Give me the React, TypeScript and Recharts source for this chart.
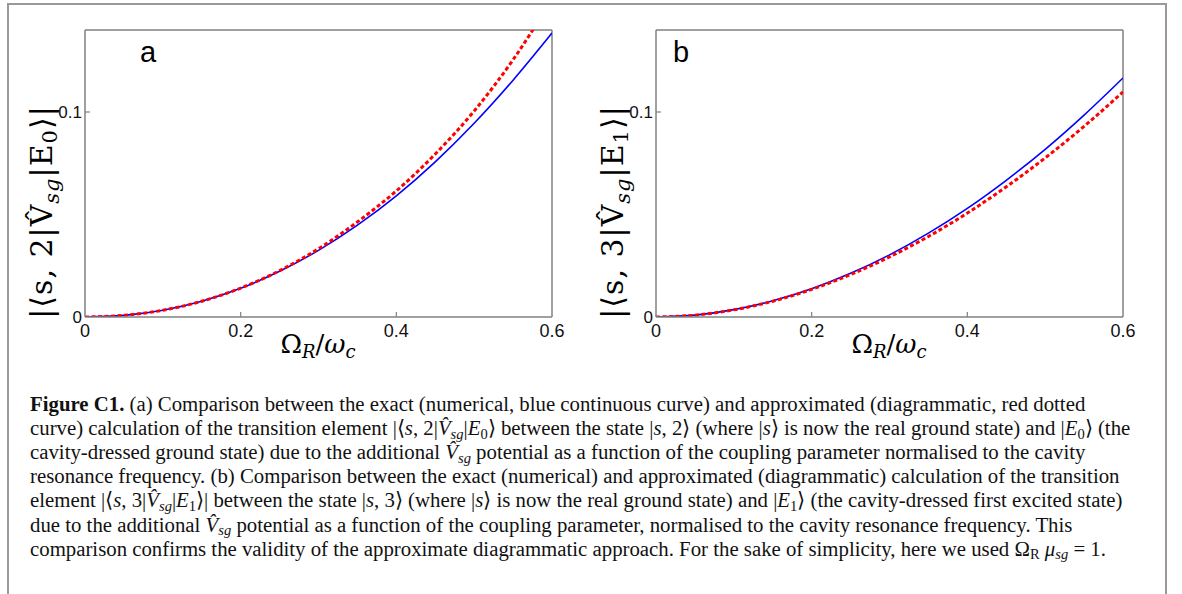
import React from "react";
import { LineChart, Line, XAxis, YAxis, ReferenceLine } from "recharts";

// coupling Omega_R / omega_c
const omega = [0, 0.05, 0.1, 0.15, 0.2, 0.25, 0.3, 0.35, 0.4, 0.45, 0.5, 0.55, 0.6];
// panel a: |<s,2|V_sg|E0>|
const exactA = [0, 0.0008, 0.0033, 0.0077, 0.014, 0.0223, 0.0325, 0.0448, 0.0591, 0.0757, 0.0945, 0.1155, 0.1385];
const approxA = [0, 0.0008, 0.0033, 0.0077, 0.0141, 0.0226, 0.0333, 0.0464, 0.0615, 0.0795, 0.1005, 0.1255, 0.155];
// panel b: |<s,3|V_sg|E1>|
const exactB = [0, 0.0009, 0.0036, 0.0079, 0.0138, 0.0213, 0.0303, 0.0409, 0.053, 0.0667, 0.0818, 0.0985, 0.1166];
const approxB = [0, 0.0009, 0.0035, 0.0077, 0.0135, 0.0207, 0.0293, 0.0393, 0.0507, 0.0635, 0.0776, 0.093, 0.1098];

const xTicks = [0, 0.2, 0.4, 0.6];
const xTickLabels = ["0", "0.2", "0.4", "0.6"];
const yTicks = [0, 0.1];
const yTickLabels = ["0", "0.1"];

const AXIS = "#808080";
const W = 590;
const H = 370;

function XTick(props: any) {
  const { x, y, payload } = props;
  const i = xTicks.indexOf(payload.value);
  const inner = i > 0 && i < xTicks.length - 1;
  return (
    <g>
      {inner && <line x1={x} x2={x} y1={y} y2={y - 5} stroke={AXIS} strokeWidth={1.2} />}
      <text x={x} y={y + 20} textAnchor="middle" fontFamily="Liberation Sans, Arial" fontSize={18} fill="#111">
        {xTickLabels[i]}
      </text>
    </g>
  );
}

function YTick(props: any) {
  const { x, y, payload } = props;
  const i = yTicks.indexOf(payload.value);
  return (
    <g>
      {i > 0 && <line x1={x} x2={x + 5} y1={y} y2={y} stroke={AXIS} strokeWidth={1.2} />}
      <text x={x - 3} y={y} dy="0.36em" textAnchor="end" fontFamily="Liberation Sans, Arial" fontSize={17} fill="#111">
        {yTickLabels[i]}
      </text>
    </g>
  );
}

function Panel(props: { left: number; letter: string; letterX: number; n: string; e: string; exact: number[]; approx: number[] }) {
  const data = omega.map((w, i) => ({ w, exact: props.exact[i], approx: props.approx[i] }));
  return (
    <div style={{ position: "absolute", left: props.left, top: 0, width: W, height: H }}>
      <LineChart width={W} height={H} data={data} margin={{ top: 30, right: 38, left: 45, bottom: 23 }}>
        <XAxis
          dataKey="w"
          type="number"
          domain={[0, 0.6]}
          ticks={xTicks}
          interval={0}
          height={30}
          tickSize={0}
          tickMargin={0}
          tickLine={false}
          tick={<XTick />}
          axisLine={{ stroke: AXIS, strokeWidth: 1.5 }}
          allowDataOverflow
        />
        <YAxis
          type="number"
          domain={[0, 0.14]}
          ticks={yTicks}
          interval={0}
          width={40}
          tickSize={0}
          tickMargin={0}
          tickLine={false}
          tick={<YTick />}
          axisLine={{ stroke: AXIS, strokeWidth: 1.5 }}
          allowDataOverflow
        />
        <ReferenceLine y={0.14} stroke={AXIS} strokeWidth={1.5} />
        <ReferenceLine x={0.6} stroke={AXIS} strokeWidth={1.5} />
        <Line type="monotone" dataKey="exact" stroke="#0000ff" strokeWidth={1.6} dot={false} isAnimationActive={false} />
        <Line
          type="monotone"
          dataKey="approx"
          stroke="#ff0000"
          strokeWidth={3}
          strokeDasharray="4 2.5"
          dot={false}
          isAnimationActive={false}
        />
      </LineChart>
      <svg width={W} height={H} style={{ position: "absolute", left: 0, top: 0, pointerEvents: "none" }}>
        <text x={props.letterX} y={62} fontFamily="Liberation Sans, Arial" fontSize={29} fill="#000">
          {props.letter}
        </text>
        <text
          transform="translate(52,212) rotate(-90)"
          textAnchor="middle"
          fontFamily="DejaVu Serif"
          fontSize={30}
          letterSpacing={1}
          fill="#000"
        >
          {`|⟨s, ${props.n}|V̂`}
          <tspan fontSize={21} fontStyle="italic" dy={7}>sg</tspan>
          <tspan dy={-7}>|E</tspan>
          <tspan fontSize={21} dy={5}>{props.e}</tspan>
          <tspan dy={-5}>⟩|</tspan>
        </text>
        <text x={318} y={353} textAnchor="middle" fontFamily="DejaVu Serif" fontSize={26} fill="#000">
          Ω<tspan fontSize={18} fontStyle="italic" dy={5}>R</tspan>
          <tspan dy={-5}>/</tspan>
          <tspan fontStyle="italic">ω</tspan>
          <tspan fontSize={18} fontStyle="italic" dy={5}>c</tspan>
        </text>
      </svg>
    </div>
  );
}

const Sub = (p: { children: React.ReactNode }) => (
  <span style={{ fontSize: "0.7em", position: "relative", top: "0.25em", lineHeight: 0 }}>{p.children}</span>
);
const Vsg = () => (
  <>
    <i>V̂</i>
    <Sub>
      <i>sg</i>
    </Sub>
  </>
);

const captionLines: React.ReactNode[] = [
  <>
    <b>Figure C1.</b> (a) Comparison between the exact (numerical, blue continuous curve) and approximated (diagrammatic, red dotted
  </>,
  <>
    curve) calculation of the transition element |⟨<i>s</i>, 2|<Vsg />|<i>E</i>
    <Sub>0</Sub>⟩ between the state |<i>s</i>, 2⟩ (where |<i>s</i>⟩ is now the real ground state) and |<i>E</i>
    <Sub>0</Sub>⟩ (the
  </>,
  <>
    cavity-dressed ground state) due to the additional <Vsg /> potential as a function of the coupling parameter normalised to the cavity
  </>,
  <>resonance frequency. (b) Comparison between the exact (numerical) and approximated (diagrammatic) calculation of the transition</>,
  <>
    element |⟨<i>s</i>, 3|<Vsg />|<i>E</i>
    <Sub>1</Sub>⟩| between the state |<i>s</i>, 3⟩ (where |<i>s</i>⟩ is now the real ground state) and |<i>E</i>
    <Sub>1</Sub>⟩ (the cavity-dressed first excited state)
  </>,
  <>
    due to the additional <Vsg /> potential as a function of the coupling parameter, normalised to the cavity resonance frequency. This
  </>,
  <>
    comparison confirms the validity of the approximate diagrammatic approach. For the sake of simplicity, here we used Ω
    <Sub>R</Sub> <i>μ</i>
    <Sub>
      <i>sg</i>
    </Sub>{" "}
    = 1.
  </>,
];

export default function App() {
  return (
    <div style={{ position: "absolute", left: 0, top: 0, width: 1182, height: 594, overflow: "hidden", background: "#fff" }}>
      <div
        style={{
          position: "absolute",
          left: 7,
          top: 3,
          width: 1160,
          height: 700,
          border: "2px solid #999",
          boxSizing: "border-box",
        }}
      />
      <Panel left={0} letter="a" letterX={140} n="2" e="0" exact={exactA} approx={approxA} />
      <Panel left={571} letter="b" letterX={102} n="3" e="1" exact={exactB} approx={approxB} />
      {captionLines.map((line, i) => (
        <div
          key={i}
          style={{
            position: "absolute",
            left: 30,
            top: 392 + i * 24.1,
            height: 24,
            lineHeight: "24px",
            whiteSpace: "nowrap",
            fontFamily: "Liberation Serif, serif",
            fontSize: 20.8,
            color: "#111",
          }}
        >
          {line}
        </div>
      ))}
    </div>
  );
}
